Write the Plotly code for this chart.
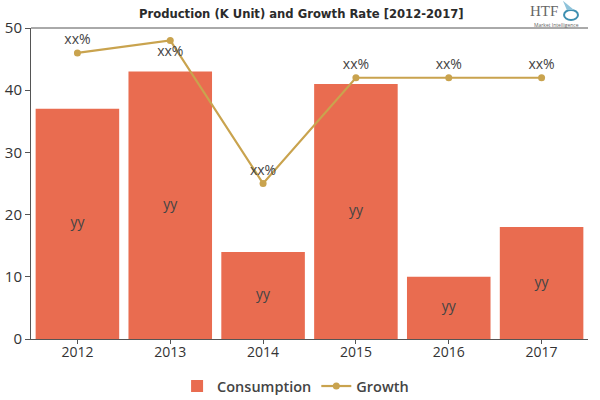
import plotly.graph_objects as go

years = ["2012", "2013", "2014", "2015", "2016", "2017"]
consumption = [37, 43, 14, 41, 10, 18]
growth = [46, 48, 25, 42, 42, 42]
bar_labels = ["yy"] * 6
line_labels = ["xx%"] * 6
line_label_positions = ["top center", "bottom center", "top center", "top center", "top center", "top center"]
title = "Production (K Unit) and Growth Rate [2012-2017]"

fig = go.Figure()
fig.add_trace(go.Bar(
    x=years, y=consumption, name="Consumption", marker=dict(color="#E96C50", line_width=0),
    hoverinfo="skip"))
fig.add_trace(go.Scatter(
    x=years, y=[v / 2 for v in consumption], mode="text", text=bar_labels,
    textposition="middle center", showlegend=False, hoverinfo="skip",
    textfont=dict(color="#444444", size=14, family="Open Sans")))
fig.add_trace(go.Scatter(
    x=years, y=growth, name="Growth", mode="lines+markers+text", cliponaxis=False,
    line=dict(color="#C9A34E", width=2.2), marker=dict(color="#C9A34E", size=7),
    text=line_labels, textposition=line_label_positions,
    textfont=dict(color="#444444", size=14, family="Open Sans"), hoverinfo="skip"))

fig.update_layout(
    width=600, height=400, autosize=False,
    margin=dict(l=31, r=12, t=28, b=61, pad=0, autoexpand=False),
    paper_bgcolor="white", plot_bgcolor="white",
    bargap=0.1,
    font=dict(family="Open Sans", color="#333333"),
    showlegend=True,
    legend=dict(orientation="h", x=0.475, xanchor="center", y=-0.1, yanchor="top",
                font=dict(size=14.5, color="#444444", family="Open Sans", weight=600),
                traceorder="normal"),
    xaxis=dict(type="category", automargin=False, showline=True, linecolor="#555555", linewidth=1,
               ticks="outside", ticklen=4, tickcolor="#555555", showgrid=False,
               ticklabelstandoff=-4,
               tickfont=dict(size=14, color="#333333"), fixedrange=True),
    yaxis=dict(range=[0, 50], automargin=False, tickvals=[0, 10, 20, 30, 40, 50], showline=True,
               linecolor="#555555", linewidth=1, ticks="outside", ticklen=5,
               tickcolor="#555555", showgrid=False,
               tickfont=dict(size=15, color="#333333"), fixedrange=True),
    annotations=[
        dict(text="<b>" + title + "</b>", xref="paper", yref="paper", x=0.485, y=1.0,
             yshift=15, showarrow=False, xanchor="center", yanchor="middle",
             font=dict(family="DejaVu Sans Condensed, Liberation Sans", size=12.9, color="#2b2b2b")),
        dict(text="HTF", xref="paper", yref="paper", x=0.95, y=1.0, yshift=17,
             showarrow=False, xanchor="right", yanchor="middle",
             font=dict(family="Liberation Serif", size=15, color="#666666")),
        dict(text="Market Intelligence", xref="paper", yref="paper", x=0.988, y=1.0, yshift=3,
             showarrow=False, xanchor="right", yanchor="middle",
             font=dict(family="Open Sans", size=5, color="#666666")),
    ],
    shapes=[
        dict(type="line", xref="paper", yref="paper", x0=0, x1=1, y0=1, y1=1,
             line=dict(color="#555555", width=1)),
        dict(type="circle", xref="paper", yref="paper", x0=0.957, x1=0.982, y0=1.026, y1=1.058,
             line=dict(color="#3E8FB0", width=2), fillcolor="rgba(0,0,0,0)"),
        dict(type="path", xref="paper", yref="paper",
             path="M 0.962 1.058 L 0.955 1.088 L 0.975 1.058 Z",
             line=dict(width=0), fillcolor="#8FC3DA"),
    ],
)
fig.write_html("out.html", config={"displayModeBar": False},
               post_script="document.body.style.margin='0';")
